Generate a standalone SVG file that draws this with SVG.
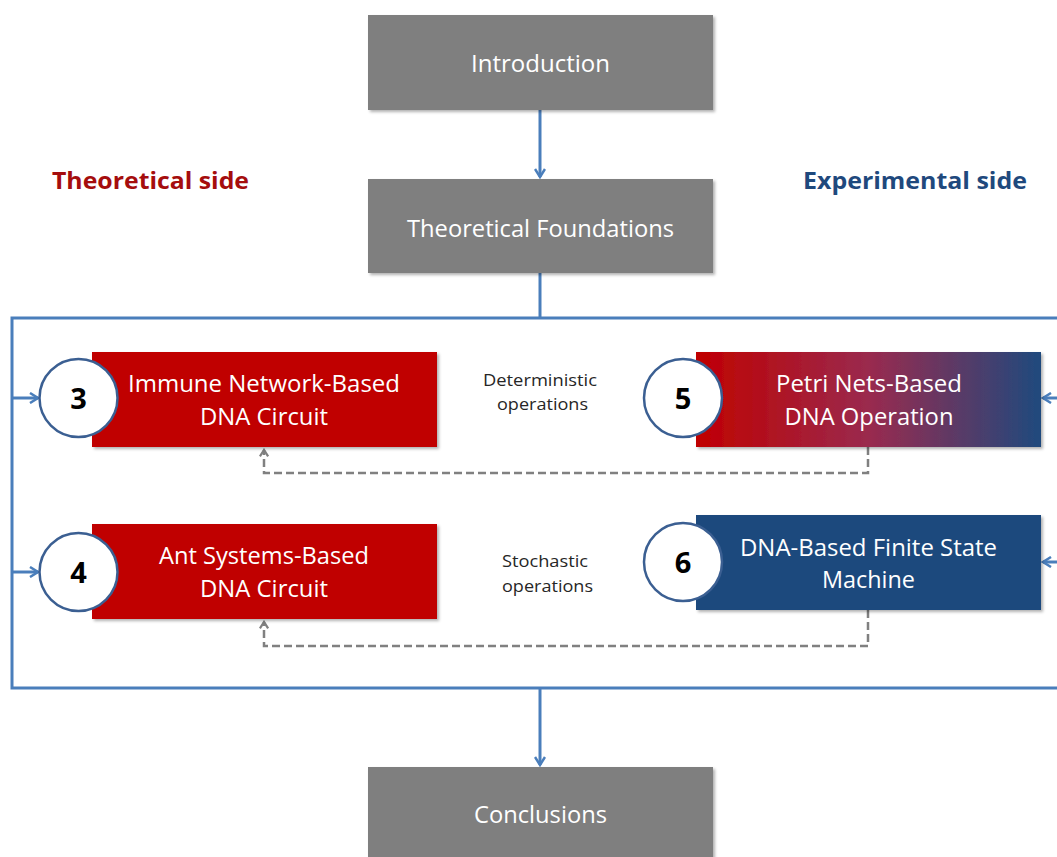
<svg xmlns="http://www.w3.org/2000/svg" width="1057" height="857" viewBox="0 0 1057 857">
  <defs>
    <style>
      .gray { fill: #7f7f7f; }
      .red { fill: #c00000; }
      .blue { fill: #1f497d; }
      .boxtxt { font-family: "Open Sans", "Noto Sans", "Liberation Sans", sans-serif; font-size: 23px; fill: #ffffff; text-anchor: middle; }
      .side { font-family: "Open Sans", "Noto Sans", "Liberation Sans", sans-serif; font-size: 23px; font-weight: bold; }
      .small { font-family: "Open Sans", "Noto Sans", "Liberation Sans", sans-serif; font-size: 17px; fill: #262626; text-anchor: middle; }
      .num { font-family: "Open Sans", "Noto Sans", "Liberation Sans", sans-serif; font-size: 29px; font-weight: bold; fill: #000000; text-anchor: middle; }
      .badge { fill: #ffffff; stroke: #3b5f92; stroke-width: 2.5; }
      .flow { fill: none; stroke: #4a7ebb; stroke-width: 3; }
      .dash { fill: none; stroke: #808080; stroke-width: 2.5; stroke-dasharray: 8 4; }
    </style>
    <linearGradient id="redToBlue" x1="0" y1="0" x2="1" y2="0">
      <stop offset="0" stop-color="#c00000"/>
      <stop offset="0.5" stop-color="#9a2a4e"/>
      <stop offset="1" stop-color="#1f497d"/>
    </linearGradient>
    <filter id="shadow" x="-5%" y="-10%" width="112%" height="125%">
      <feDropShadow dx="2" dy="2" stdDeviation="1.8" flood-color="#000000" flood-opacity="0.3"/>
    </filter>
    <marker id="arrowBlue" viewBox="0 0 12 12" refX="10" refY="6" markerWidth="12" markerHeight="12" markerUnits="userSpaceOnUse" orient="auto">
      <path d="M2,1 L10,6 L2,11" fill="none" stroke="#4a7ebb" stroke-width="2.5"/>
    </marker>
    <marker id="arrowGray" viewBox="0 0 12 12" refX="10" refY="6" markerWidth="11" markerHeight="11" markerUnits="userSpaceOnUse" orient="auto">
      <path d="M3,1.5 L10,6 L3,10.5" fill="none" stroke="#808080" stroke-width="2.5"/>
    </marker>
  </defs>

  <rect width="1057" height="857" fill="#ffffff"/>

  <!-- side headings -->
  <text class="side" x="52" y="189" fill="#a50d0d" textLength="197" lengthAdjust="spacingAndGlyphs">Theoretical side</text>
  <text class="side" x="803" y="189" fill="#1f497d" textLength="224" lengthAdjust="spacingAndGlyphs">Experimental side</text>

  <!-- connectors -->
  <g id="connectors">
    <line class="flow" x1="540" y1="110" x2="540" y2="177" marker-end="url(#arrowBlue)"/>
    <line class="flow" x1="540" y1="273" x2="540" y2="318"/>
    <polyline class="flow" points="1060,318 12,318 12,688 1060,688"/>
    <line class="flow" x1="12" y1="398" x2="38" y2="398" marker-end="url(#arrowBlue)"/>
    <line class="flow" x1="12" y1="572" x2="38" y2="572" marker-end="url(#arrowBlue)"/>
    <line class="flow" x1="1060" y1="398" x2="1043" y2="398" marker-end="url(#arrowBlue)"/>
    <line class="flow" x1="1060" y1="562" x2="1043" y2="562" marker-end="url(#arrowBlue)"/>
    <line class="flow" x1="540" y1="688" x2="540" y2="765" marker-end="url(#arrowBlue)"/>
    <polyline class="dash" points="868,447 868,473 264,473 264,450" marker-end="url(#arrowGray)"/>
    <polyline class="dash" points="868,610 868,646 264,646 264,622" marker-end="url(#arrowGray)"/>
  </g>

  <!-- operation labels -->
  <g id="label-deterministic">
    <text class="small" x="540" y="386" textLength="114" lengthAdjust="spacingAndGlyphs">Deterministic</text>
    <text class="small" x="542.5" y="410" textLength="91" lengthAdjust="spacingAndGlyphs">operations</text>
  </g>
  <g id="label-stochastic">
    <text class="small" x="545" y="567" textLength="86" lengthAdjust="spacingAndGlyphs">Stochastic</text>
    <text class="small" x="547.5" y="592" textLength="91" lengthAdjust="spacingAndGlyphs">operations</text>
  </g>

  <g id="introduction">
    <rect class="gray" x="368" y="15" width="345" height="95" filter="url(#shadow)"/>
    <text class="boxtxt" x="540.5" y="72" textLength="139" lengthAdjust="spacingAndGlyphs">Introduction</text>
  </g>

  <g id="theoretical-foundations">
    <rect class="gray" x="368" y="179" width="345" height="94" filter="url(#shadow)"/>
    <text class="boxtxt" x="540.5" y="237" textLength="267" lengthAdjust="spacingAndGlyphs">Theoretical Foundations</text>
  </g>

  <g id="conclusions">
    <rect class="gray" x="368" y="767" width="345" height="100" filter="url(#shadow)"/>
    <text class="boxtxt" x="540.5" y="823" textLength="133" lengthAdjust="spacingAndGlyphs">Conclusions</text>
  </g>

  <g id="immune-network">
    <rect class="red" x="92" y="352" width="345" height="95" filter="url(#shadow)"/>
    <text class="boxtxt" x="264" y="392" textLength="272" lengthAdjust="spacingAndGlyphs">Immune Network-Based</text>
    <text class="boxtxt" x="264" y="425" textLength="128" lengthAdjust="spacingAndGlyphs">DNA Circuit</text>
    <circle class="badge" cx="78.5" cy="398" r="39"/>
    <text class="num" x="78.5" y="409">3</text>
  </g>

  <g id="ant-systems">
    <rect class="red" x="92" y="524" width="345" height="95" filter="url(#shadow)"/>
    <text class="boxtxt" x="264" y="564" textLength="210" lengthAdjust="spacingAndGlyphs">Ant Systems-Based</text>
    <text class="boxtxt" x="264" y="597" textLength="128" lengthAdjust="spacingAndGlyphs">DNA Circuit</text>
    <circle class="badge" cx="78.5" cy="572" r="39"/>
    <text class="num" x="78.5" y="583">4</text>
  </g>

  <g id="petri-nets">
    <rect x="696" y="352" width="345" height="95" fill="url(#redToBlue)" filter="url(#shadow)"/>
    <text class="boxtxt" x="869" y="392" textLength="186" lengthAdjust="spacingAndGlyphs">Petri Nets-Based</text>
    <text class="boxtxt" x="869" y="425" textLength="169" lengthAdjust="spacingAndGlyphs">DNA Operation</text>
    <circle class="badge" cx="683" cy="398" r="39"/>
    <text class="num" x="683" y="409">5</text>
  </g>

  <g id="finite-state-machine">
    <rect class="blue" x="696" y="515" width="345" height="95" filter="url(#shadow)"/>
    <text class="boxtxt" x="868.5" y="556" textLength="257" lengthAdjust="spacingAndGlyphs">DNA-Based Finite State</text>
    <text class="boxtxt" x="868.5" y="588" textLength="93" lengthAdjust="spacingAndGlyphs">Machine</text>
    <circle class="badge" cx="683" cy="562" r="39"/>
    <text class="num" x="683" y="573">6</text>
  </g>
</svg>
